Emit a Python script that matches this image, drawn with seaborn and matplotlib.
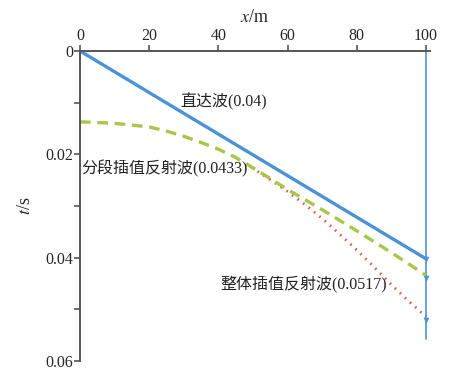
import numpy as np
import pandas as pd
import matplotlib
matplotlib.use("Agg")
import matplotlib.pyplot as plt
from matplotlib.ticker import MultipleLocator
import seaborn as sns

# ── Data ──────────────────────────────────────────────────
direct_x = [0, 100]
direct_t = [0.0, 0.0402]

piece_x = [0, 10, 20, 25, 30, 35, 40, 45, 50, 60, 70, 80, 90, 100]
piece_t = [0.0137, 0.0140, 0.0147, 0.0155, 0.0165, 0.0177, 0.0190, 0.0206, 0.0226,
           0.0268, 0.0307, 0.0348, 0.0390, 0.0434]

whole_x = [48, 50, 55, 60, 65, 70, 75, 80, 85, 90, 95, 100]
whole_t = [0.0218, 0.0227, 0.0249, 0.0272, 0.0297, 0.0324, 0.0354, 0.0385, 0.0418,
           0.0452, 0.0484, 0.0514]

marker_x = [100, 100, 100]
marker_t = [0.0402, 0.0440, 0.0520]
vline_x = [100, 100]
vline_t = [0.0, 0.0557]

labels = ["直达波(0.04)", "分段插值反射波(0.0433)", "整体插值反射波(0.0517)"]
label_pos = [(29.0, 0.0099), (0.3, 0.0227), (40.5, 0.0450)]
# ──────────────────────────────────────────────────────────

sns.set_style("ticks")
plt.rcParams["font.family"] = ["Liberation Serif", "Noto Sans CJK SC"]
plt.rcParams["mathtext.fontset"] = "stix"

BLUE = "#4a93d6"
GREEN = "#a8c74a"
RED = "#e25a50"

fig = plt.figure(figsize=(4.54, 3.72), dpi=100)
ax = fig.add_axes([80 / 454, 1 - 361 / 372, 350 / 454, 310 / 372])

sns.lineplot(x=vline_x, y=vline_t, ax=ax, color=BLUE, lw=1.2,
             estimator=None, sort=False)
sns.lineplot(x=whole_x, y=whole_t, ax=ax, color=RED, lw=2.0,
             linestyle=(0, (0.6, 1.9)))
sns.lineplot(x=piece_x, y=piece_t, ax=ax, color=GREEN, lw=2.4,
             linestyle=(0, (3.2, 2.0)))
sns.lineplot(x=direct_x, y=direct_t, ax=ax, color=BLUE, lw=2.4)
sns.scatterplot(x=marker_x, y=marker_t, ax=ax, marker="v", s=12,
                color=BLUE, edgecolor=BLUE, linewidth=0.5)

for txt, (lx, ly) in zip(labels, label_pos):
    ax.text(lx, ly, txt, fontsize=11.5, ha="left", va="center", color="#222222")

ax.set_xlim(0, 101.2)
ax.set_ylim(0.06, 0)
ax.xaxis.tick_top()
ax.xaxis.set_label_position("top")
ax.set_xticks([0, 20, 40, 60, 80, 100])
ax.set_yticks([0, 0.02, 0.04, 0.06])
ax.set_yticklabels(["0", "0.02", "0.04", "0.06"])
ax.yaxis.set_minor_locator(MultipleLocator(0.01))
ax.set_xlabel("$x$/m", fontsize=13, labelpad=4)
ax.set_ylabel("$t$/s", fontsize=13, labelpad=8)

for s in ["right", "bottom"]:
    ax.spines[s].set_visible(False)
for s in ["top", "left"]:
    ax.spines[s].set_color("#555555")
    ax.spines[s].set_linewidth(1.4)
ax.tick_params(axis="both", which="both", direction="out", color="#555555",
               labelsize=11.5, width=1.2, pad=1)
ax.tick_params(axis="both", which="major", length=4)
ax.tick_params(axis="y", which="minor", length=4)

fig.savefig("out.png", dpi=100)
